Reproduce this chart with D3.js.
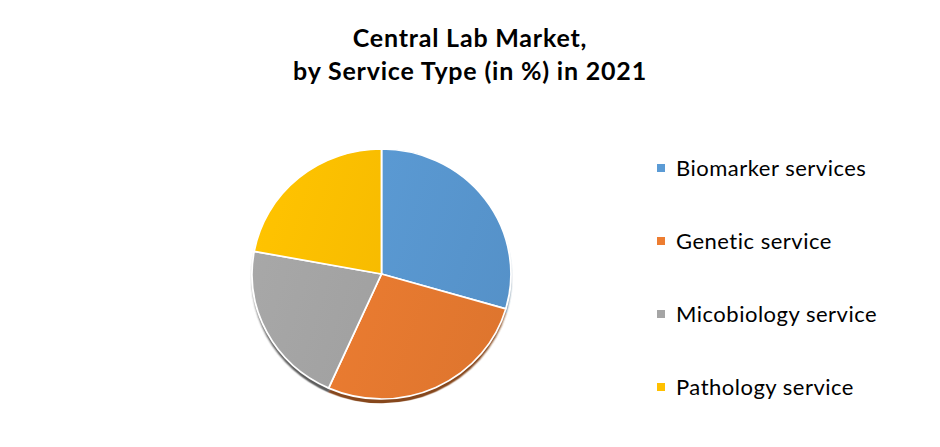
<!DOCTYPE html>
<html><head><meta charset="utf-8">
<script src="https://cdn.jsdelivr.net/npm/d3@7"></script>
<style>html,body{margin:0;padding:0;background:#fff;}svg{display:block;}</style>
</head><body>
<script>
const categories = ["Biomarker services", "Genetic service", "Micobiology service", "Pathology service"];
const shares = [29.5, 27.2, 21.2, 22.1];
const colors = ["#5B9BD5", "#ED7D31", "#A5A5A5", "#FFC000"];
const titleLines = ["Central Lab Market,", "by Service Type (in %) in 2021"];

const W = 940, H = 447;
const svg = d3.select("body").append("svg").attr("width", W).attr("height", H);
const defs = svg.append("defs");

const blur = defs.append("filter").attr("id", "bl").attr("x", "-20%").attr("y", "-20%").attr("width", "140%").attr("height", "140%");
blur.append("feGaussianBlur").attr("stdDeviation", 0.8);

colors.forEach((c, i) => {
  const g = defs.append("linearGradient").attr("id", "g" + i)
    .attr("gradientUnits", "userSpaceOnUse")
    .attr("x1", -130).attr("y1", -40).attr("x2", 130).attr("y2", 40);
  g.append("stop").attr("offset", "0%").attr("stop-color", d3.color(c).brighter(0.05));
  g.append("stop").attr("offset", "100%").attr("stop-color", d3.color(c).darker(0.18));
});

// Title
svg.append("g").selectAll("text").data(titleLines).join("text")
  .attr("x", 470).attr("y", (d, i) => 47 + i * 33)
  .attr("text-anchor", "middle")
  .style("font-family", "Lato, 'Open Sans', sans-serif")
  .style("font-weight", "bold").style("font-size", "25px").style("letter-spacing", "0.8px")
  .style("fill", "#000")
  .text(d => d);

// Pie
const cx = 381.5, cy = 274, rx = 129.5, ry = 125;
const pie = d3.pie().sort(null).value(d => d)(shares);
const arc = d3.arc().innerRadius(0).outerRadius(rx);
const pg = svg.append("g").attr("transform", `translate(${cx},${cy}) scale(1,${ry / rx})`);
pg.append("g").attr("transform", "translate(0,4.5)").attr("filter", "url(#bl)")
  .selectAll("path").data(pie).join("path")
  .attr("d", arc)
  .attr("fill", (d, i) => d3.color(colors[i]).darker(1.6));
pg.append("g").selectAll("path").data(pie).join("path")
  .attr("d", arc)
  .attr("fill", (d, i) => `url(#g${i})`)
  .attr("stroke", "#fff").attr("stroke-width", 1.8).attr("stroke-linejoin", "round");

// Legend
const lg = svg.append("g").selectAll("g").data(categories).join("g")
  .attr("transform", (d, i) => `translate(657, ${168 + i * 73})`);
lg.append("rect").attr("x", 0).attr("y", -4).attr("width", 8).attr("height", 8)
  .attr("fill", (d, i) => colors[i]);
lg.append("text").attr("x", 19).attr("y", 7.5)
  .style("font-family", "Lato, 'Open Sans', sans-serif").style("font-size", "22px")
  .style("letter-spacing", "0.5px").style("fill", "#000")
  .text(d => d);
</script>
</body></html>
